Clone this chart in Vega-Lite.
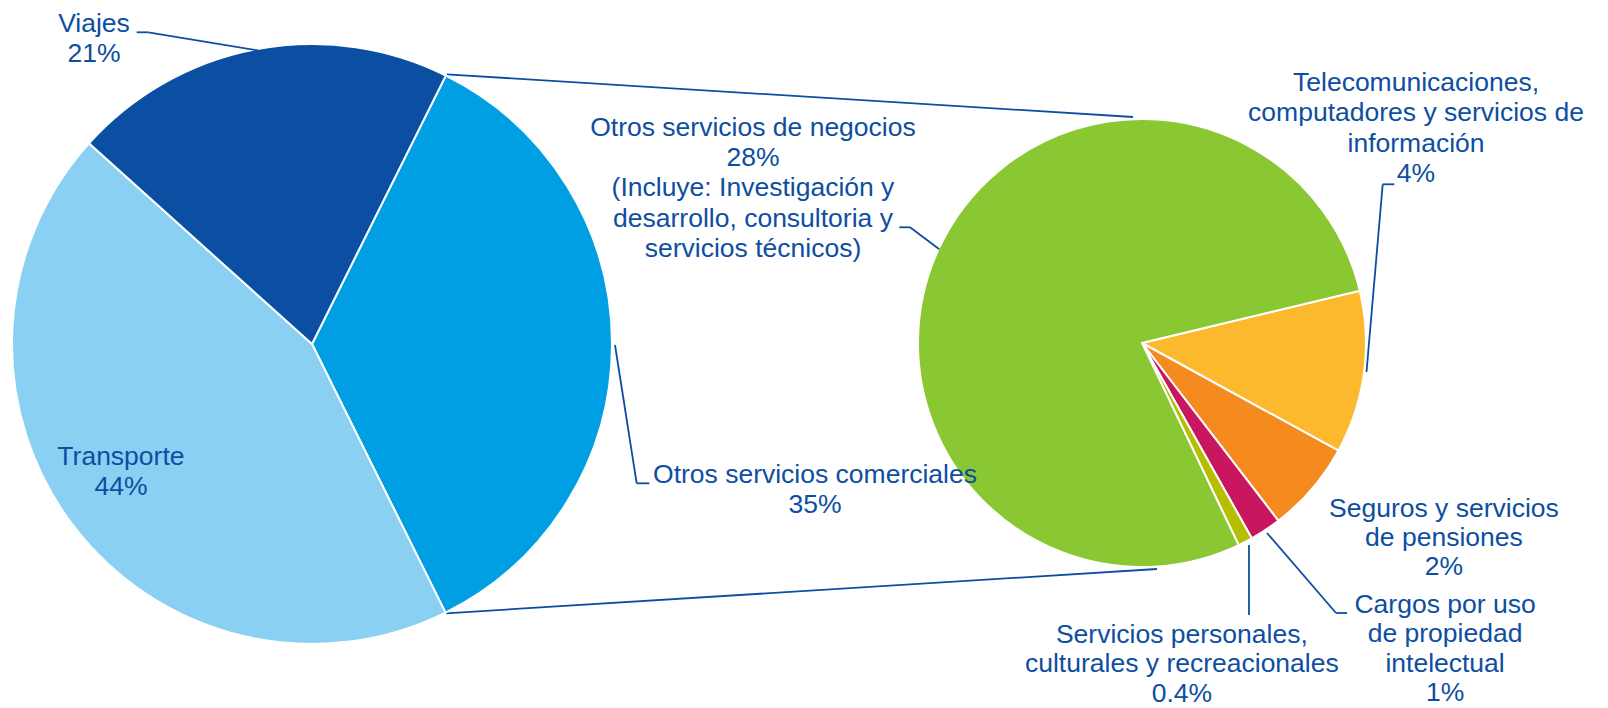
{
  "$schema": "https://vega.github.io/schema/vega-lite/v6.json",
  "width": 1608,
  "height": 708,
  "autosize": {"type": "none"},
  "padding": 0,
  "background": "white",
  "config": {"view": {"stroke": null}, "text": {"font": "Liberation Sans"}},
  "datasets": {
    "principal": [
      {"cat": "Otros servicios comerciales", "pct": 35.3, "orden": 1, "etiqueta": "Otros servicios comerciales\n35%"},
      {"cat": "Transporte", "pct": 44.0, "orden": 2, "etiqueta": "Transporte\n44%"},
      {"cat": "Viajes", "pct": 20.7, "orden": 3, "etiqueta": "Viajes\n21%"}
    ],
    "detalle": [
      {"cat": "Telecomunicaciones, computadores y servicios de información", "pct": 4.14, "orden": 1, "etiqueta": "Telecomunicaciones,\ncomputadores y servicios de\ninformación\n4%"},
      {"cat": "Seguros y servicios de pensiones", "pct": 2.33, "orden": 2, "etiqueta": "Seguros y servicios\nde pensiones\n2%"},
      {"cat": "Cargos por uso de propiedad intelectual", "pct": 0.80, "orden": 3, "etiqueta": "Cargos por uso\nde propiedad\nintelectual\n1%"},
      {"cat": "Servicios personales, culturales y recreacionales", "pct": 0.37, "orden": 4, "etiqueta": "Servicios personales,\nculturales y recreacionales\n0.4%"},
      {"cat": "Otros servicios de negocios", "pct": 27.65, "orden": 5, "etiqueta": "Otros servicios de negocios\n28%\n(Incluye: Investigación y\ndesarrollo, consultoria y\nservicios técnicos)"}
    ]
  },
  "resolve": {"scale": {"theta": "independent"}},
  "layer": [
    {
      "data": {"name": "principal"},
      "mark": {"type": "rule", "color": "#0D4EA2", "strokeWidth": 1.8},
      "transform": [{"filter": "datum.orden === 1"}],
      "encoding": {"x": {"value": 446.7}, "y": {"value": 74.3}, "x2": {"value": 1133}, "y2": {"value": 117}}
    },
    {
      "data": {"name": "principal"},
      "mark": {"type": "rule", "color": "#0D4EA2", "strokeWidth": 1.8},
      "transform": [{"filter": "datum.orden === 1"}],
      "encoding": {"x": {"value": 446}, "y": {"value": 613.3}, "x2": {"value": 1157}, "y2": {"value": 569}}
    },
    {
      "data": {"name": "principal"},
      "mark": {"type": "arc", "x": 312, "y": 344, "outerRadius": 300, "stroke": "white", "strokeWidth": 2},
      "encoding": {
        "theta": {"field": "pct", "type": "quantitative", "stack": true, "scale": {"range": [0.4625, 6.7457]}},
        "order": {"field": "orden", "type": "quantitative"},
        "color": {"field": "cat", "type": "nominal", "legend": null,
          "scale": {
            "domain": ["Viajes", "Transporte", "Otros servicios comerciales", "Otros servicios de negocios", "Telecomunicaciones, computadores y servicios de información", "Seguros y servicios de pensiones", "Cargos por uso de propiedad intelectual", "Servicios personales, culturales y recreacionales"],
            "range": ["#0A4FA1", "#89D0F2", "#009FE3", "#89C733", "#FDB92E", "#F58A1F", "#C8175F", "#B5BF00"]
          }}
      }
    },
    {
      "data": {"name": "detalle"},
      "mark": {"type": "arc", "x": 1142, "y": 343, "outerRadius": 224, "stroke": "white", "strokeWidth": 2},
      "encoding": {
        "theta": {"field": "pct", "type": "quantitative", "stack": true, "scale": {"range": [1.3352, 7.6184]}},
        "order": {"field": "orden", "type": "quantitative"},
        "color": {"field": "cat", "type": "nominal", "legend": null,
          "scale": {
            "domain": ["Viajes", "Transporte", "Otros servicios comerciales", "Otros servicios de negocios", "Telecomunicaciones, computadores y servicios de información", "Seguros y servicios de pensiones", "Cargos por uso de propiedad intelectual", "Servicios personales, culturales y recreacionales"],
            "range": ["#0A4FA1", "#89D0F2", "#009FE3", "#89C733", "#FDB92E", "#F58A1F", "#C8175F", "#B5BF00"]
          }}
      }
    },
    {
      "data": {"name": "principal"},
      "mark": {"type": "rule", "color": "#0D4EA2", "strokeWidth": 1.8},
      "transform": [{"filter": "datum.orden === 3"}],
      "encoding": {"x": {"value": 258}, "y": {"value": 50.5}, "x2": {"value": 148.3}, "y2": {"value": 32.3}}
    },
    {
      "data": {"name": "principal"},
      "mark": {"type": "rule", "color": "#0D4EA2", "strokeWidth": 1.8},
      "transform": [{"filter": "datum.orden === 3"}],
      "encoding": {"x": {"value": 148.3}, "y": {"value": 32.3}, "x2": {"value": 136.7}, "y2": {"value": 32.3}}
    },
    {
      "data": {"name": "principal"},
      "mark": {"type": "rule", "color": "#0D4EA2", "strokeWidth": 1.8},
      "transform": [{"filter": "datum.orden === 1"}],
      "encoding": {"x": {"value": 615}, "y": {"value": 345}, "x2": {"value": 636.7}, "y2": {"value": 483.3}}
    },
    {
      "data": {"name": "principal"},
      "mark": {"type": "rule", "color": "#0D4EA2", "strokeWidth": 1.8},
      "transform": [{"filter": "datum.orden === 1"}],
      "encoding": {"x": {"value": 636.7}, "y": {"value": 483.3}, "x2": {"value": 649.3}, "y2": {"value": 483.3}}
    },
    {
      "data": {"name": "detalle"},
      "mark": {"type": "rule", "color": "#0D4EA2", "strokeWidth": 1.8},
      "transform": [{"filter": "datum.orden === 5"}],
      "encoding": {"x": {"value": 939.3}, "y": {"value": 249.3}, "x2": {"value": 910}, "y2": {"value": 227.3}}
    },
    {
      "data": {"name": "detalle"},
      "mark": {"type": "rule", "color": "#0D4EA2", "strokeWidth": 1.8},
      "transform": [{"filter": "datum.orden === 5"}],
      "encoding": {"x": {"value": 910}, "y": {"value": 227.3}, "x2": {"value": 899.3}, "y2": {"value": 227.3}}
    },
    {
      "data": {"name": "detalle"},
      "mark": {"type": "rule", "color": "#0D4EA2", "strokeWidth": 1.8},
      "transform": [{"filter": "datum.orden === 1"}],
      "encoding": {"x": {"value": 1366.5}, "y": {"value": 372}, "x2": {"value": 1382.7}, "y2": {"value": 184.3}}
    },
    {
      "data": {"name": "detalle"},
      "mark": {"type": "rule", "color": "#0D4EA2", "strokeWidth": 1.8},
      "transform": [{"filter": "datum.orden === 1"}],
      "encoding": {"x": {"value": 1382.7}, "y": {"value": 184.3}, "x2": {"value": 1394.3}, "y2": {"value": 184.3}}
    },
    {
      "data": {"name": "detalle"},
      "mark": {"type": "rule", "color": "#0D4EA2", "strokeWidth": 1.8},
      "transform": [{"filter": "datum.orden === 3"}],
      "encoding": {"x": {"value": 1267}, "y": {"value": 533}, "x2": {"value": 1336}, "y2": {"value": 613}}
    },
    {
      "data": {"name": "detalle"},
      "mark": {"type": "rule", "color": "#0D4EA2", "strokeWidth": 1.8},
      "transform": [{"filter": "datum.orden === 3"}],
      "encoding": {"x": {"value": 1336}, "y": {"value": 613}, "x2": {"value": 1347}, "y2": {"value": 613}}
    },
    {
      "data": {"name": "detalle"},
      "mark": {"type": "rule", "color": "#0D4EA2", "strokeWidth": 1.8},
      "transform": [{"filter": "datum.orden === 4"}],
      "encoding": {"x": {"value": 1249}, "y": {"value": 545}, "x2": {"value": 1249}, "y2": {"value": 615}}
    },
    {
      "data": {"name": "principal"},
      "mark": {"type": "text", "x": 312, "y": 344, "radius": 300, "dx": -162, "dy": -38, "align": "center", "baseline": "top", "lineBreak": "\n", "lineHeight": 30, "fontSize": 26.5, "color": "#0D4EA2"},
      "encoding": {
        "theta": {"field": "pct", "type": "quantitative", "stack": true, "scale": {"range": [0.4625, 6.7457]}},
        "order": {"field": "orden", "type": "quantitative"},
        "text": {"condition": {"test": "datum.orden === 3", "field": "etiqueta", "type": "nominal"}, "value": ""}
      }
    },
    {
      "data": {"name": "principal"},
      "mark": {"type": "text", "x": 312, "y": 344, "radius": 200, "dx": -31.8, "dy": -21.1, "align": "center", "baseline": "top", "lineBreak": "\n", "lineHeight": 30, "fontSize": 26.5, "color": "#0D4EA2"},
      "encoding": {
        "theta": {"field": "pct", "type": "quantitative", "stack": true, "scale": {"range": [0.4625, 6.7457]}},
        "order": {"field": "orden", "type": "quantitative"},
        "text": {"condition": {"test": "datum.orden === 2", "field": "etiqueta", "type": "nominal"}, "value": ""}
      }
    },
    {
      "data": {"name": "principal"},
      "mark": {"type": "text", "x": 312, "y": 344, "radius": 300, "dx": 203, "dy": 118, "align": "center", "baseline": "top", "lineBreak": "\n", "lineHeight": 30, "fontSize": 26.5, "color": "#0D4EA2"},
      "encoding": {
        "theta": {"field": "pct", "type": "quantitative", "stack": true, "scale": {"range": [0.4625, 6.7457]}},
        "order": {"field": "orden", "type": "quantitative"},
        "text": {"condition": {"test": "datum.orden === 1", "field": "etiqueta", "type": "nominal"}, "value": ""}
      }
    },
    {
      "data": {"name": "detalle"},
      "mark": {"type": "text", "x": 1142, "y": 343, "radius": 224, "dx": 52, "dy": -302.9, "align": "center", "baseline": "top", "lineBreak": "\n", "lineHeight": 30.5, "fontSize": 26.5, "color": "#0D4EA2"},
      "encoding": {
        "theta": {"field": "pct", "type": "quantitative", "stack": true, "scale": {"range": [1.3352, 7.6184]}},
        "order": {"field": "orden", "type": "quantitative"},
        "text": {"condition": {"test": "datum.orden === 1", "field": "etiqueta", "type": "nominal"}, "value": ""}
      }
    },
    {
      "data": {"name": "detalle"},
      "mark": {"type": "text", "x": 1142, "y": 343, "radius": 224, "dx": 131.9, "dy": 7.2, "align": "center", "baseline": "top", "lineBreak": "\n", "lineHeight": 29, "fontSize": 26.5, "color": "#0D4EA2"},
      "encoding": {
        "theta": {"field": "pct", "type": "quantitative", "stack": true, "scale": {"range": [1.3352, 7.6184]}},
        "order": {"field": "orden", "type": "quantitative"},
        "text": {"condition": {"test": "datum.orden === 2", "field": "etiqueta", "type": "nominal"}, "value": ""}
      }
    },
    {
      "data": {"name": "detalle"},
      "mark": {"type": "text", "x": 1142, "y": 343, "radius": 224, "dx": 179.7, "dy": 62, "align": "center", "baseline": "top", "lineBreak": "\n", "lineHeight": 29.5, "fontSize": 26.5, "color": "#0D4EA2"},
      "encoding": {
        "theta": {"field": "pct", "type": "quantitative", "stack": true, "scale": {"range": [1.3352, 7.6184]}},
        "order": {"field": "orden", "type": "quantitative"},
        "text": {"condition": {"test": "datum.orden === 3", "field": "etiqueta", "type": "nominal"}, "value": ""}
      }
    },
    {
      "data": {"name": "detalle"},
      "mark": {"type": "text", "x": 1142, "y": 343, "radius": 224, "dx": -63.4, "dy": 80, "align": "center", "baseline": "top", "lineBreak": "\n", "lineHeight": 29.5, "fontSize": 26.5, "color": "#0D4EA2"},
      "encoding": {
        "theta": {"field": "pct", "type": "quantitative", "stack": true, "scale": {"range": [1.3352, 7.6184]}},
        "order": {"field": "orden", "type": "quantitative"},
        "text": {"condition": {"test": "datum.orden === 4", "field": "etiqueta", "type": "nominal"}, "value": ""}
      }
    },
    {
      "data": {"name": "detalle"},
      "mark": {"type": "text", "x": 1142, "y": 343, "radius": 224, "dx": -186.8, "dy": -131.6, "align": "center", "baseline": "top", "lineBreak": "\n", "lineHeight": 30.2, "fontSize": 26.5, "color": "#0D4EA2"},
      "encoding": {
        "theta": {"field": "pct", "type": "quantitative", "stack": true, "scale": {"range": [1.3352, 7.6184]}},
        "order": {"field": "orden", "type": "quantitative"},
        "text": {"condition": {"test": "datum.orden === 5", "field": "etiqueta", "type": "nominal"}, "value": ""}
      }
    }
  ]
}
